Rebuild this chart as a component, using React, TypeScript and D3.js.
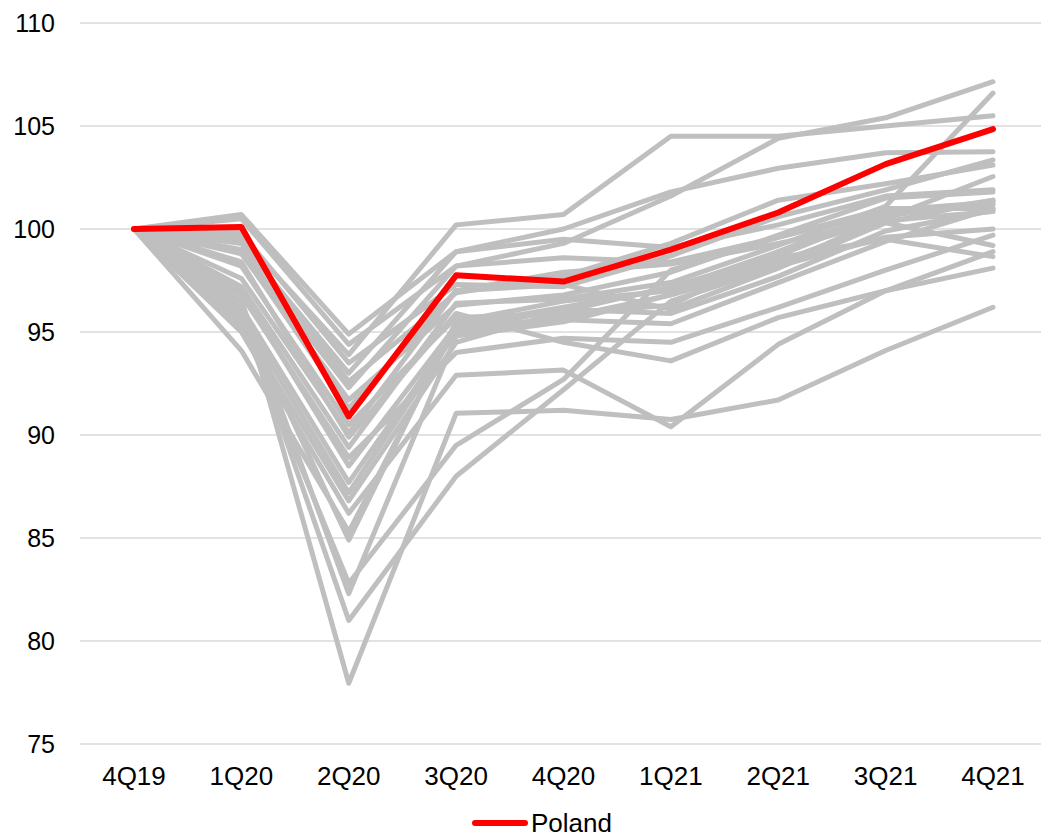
import React from "react";
import * as d3 from "d3";

// Quarterly index, 4Q19 = 100
const quarters = ["4Q19", "1Q20", "2Q20", "3Q20", "4Q20", "1Q21", "2Q21", "3Q21", "4Q21"];
const yTicks = [75, 80, 85, 90, 95, 100, 105, 110];

const poland = [100, 100.1, 90.9, 97.75, 97.45, 99.0, 100.8, 103.15, 104.85];

// Other economies, drawn in grey behind Poland
const others: number[][] = [
  [100, 100.7, 94.9, 98.9, 99.5, 99.1, 100.2, 101.6, 101.9],
  [100, 100.5, 94.4, 98.2, 98.6, 98.4, 99.6, 100.9, 101.2],
  [100, 99.6, 93.9, 100.2, 100.7, 104.5, 104.5, 105.0, 105.5],
  [100, 99.8, 93.5, 97.3, 97.2, 98.7, 100.6, 101.9, 103.35],
  [100, 99.3, 93.0, 98.9, 100.0, 101.8, 102.95, 103.7, 103.75],
  [100, 99.5, 92.6, 96.9, 97.7, 99.3, 101.4, 102.2, 103.1],
  [100, 99.0, 92.3, 98.2, 99.3, 101.6, 104.4, 105.4, 107.15],
  [100, 98.8, 91.7, 96.3, 96.8, 97.9, 99.7, 101.5, 101.8],
  [100, 98.9, 91.3, 97.0, 97.9, 98.3, 99.3, 100.4, 100.85],
  [100, 98.2, 90.5, 95.7, 95.9, 96.3, 98.9, 100.5, 102.55],
  [100, 97.6, 90.1, 97.0, 97.3, 96.1, 98.1, 100.3, 101.4],
  [100, 98.4, 89.9, 95.9, 94.5, 93.6, 95.7, 97.0, 98.9],
  [100, 97.2, 89.4, 96.4, 96.6, 97.4, 99.2, 101.1, 106.6],
  [100, 96.8, 88.9, 94.0, 94.7, 94.5, 96.2, 98.0, 99.7],
  [100, 97.0, 88.5, 95.3, 95.6, 95.4, 97.4, 99.4, 101.0],
  [100, 96.2, 87.7, 95.1, 96.1, 95.9, 97.7, 99.9, 100.9],
  [100, 95.8, 87.2, 95.0, 95.7, 96.8, 98.4, 100.3, 99.2],
  [100, 95.3, 86.8, 94.5, 96.0, 97.2, 98.7, 100.8, 101.2],
  [100, 95.0, 86.2, 92.9, 93.15, 90.4, 94.4, 97.0, 98.1],
  [100, 94.1, 85.3, 95.3, 96.2, 97.1, 98.9, 100.9, 101.3],
  [100, 96.0, 84.9, 95.5, 96.5, 97.0, 98.6, 99.5, 98.66],
  [100, 95.5, 82.8, 89.5, 92.7, 98.0, 99.6, 101.0, 101.0],
  [100, 96.5, 82.3, 94.8, 95.5, 96.8, 98.2, 100.6, 101.4],
  [100, 96.0, 81.0, 88.0, 92.2, 96.5, 98.2, 99.6, 100.0],
  [100, 96.5, 77.95, 91.05, 91.2, 90.75, 91.7, 94.1, 96.2],
];

const WIDTH = 1041;
const HEIGHT = 837;
const FONT = "Liberation Sans, Arial, sans-serif";

export default function App() {
  const x = d3.scalePoint<string>().domain(quarters).range([134, 993]);
  const y = d3.scaleLinear().domain([75, 110]).range([744, 23]);

  const line = d3
    .line<number>()
    .x((_, i) => x(quarters[i]) as number)
    .y((v) => y(v));

  return (
    <svg
      width={WIDTH}
      height={HEIGHT}
      style={{ position: "absolute", left: 0, top: 0, background: "#fff" }}
    >
      {/* horizontal gridlines */}
      {yTicks.map((t) => (
        <line
          key={`g${t}`}
          x1={80}
          x2={WIDTH}
          y1={y(t)}
          y2={y(t)}
          stroke="#d9d9d9"
          strokeWidth={1.5}
        />
      ))}
      {/* y-axis labels */}
      {yTicks.map((t) => (
        <text
          key={`t${t}`}
          x={55}
          y={y(t)}
          textAnchor="end"
          dominantBaseline="central"
          fontFamily={FONT}
          fontSize={25}
          fill="#000"
        >
          {t}
        </text>
      ))}
      {/* x-axis labels */}
      {quarters.map((q) => (
        <text
          key={q}
          x={x(q)}
          y={776}
          textAnchor="middle"
          dominantBaseline="central"
          fontFamily={FONT}
          fontSize={26}
          fill="#000"
        >
          {q}
        </text>
      ))}
      {/* grey series */}
      {others.map((s, i) => (
        <path
          key={`s${i}`}
          d={line(s) ?? ""}
          fill="none"
          stroke="#bfbfbf"
          strokeWidth={5}
          strokeLinejoin="round"
          strokeLinecap="round"
        />
      ))}
      {/* Poland */}
      <path
        d={line(poland) ?? ""}
        fill="none"
        stroke="#ff0000"
        strokeWidth={6}
        strokeLinejoin="round"
        strokeLinecap="round"
      />
      {/* legend */}
      <line
        x1={475}
        x2={525}
        y1={823}
        y2={823}
        stroke="#ff0000"
        strokeWidth={6}
        strokeLinecap="round"
      />
      <text
        x={531}
        y={823}
        dominantBaseline="central"
        fontFamily={FONT}
        fontSize={26}
        fill="#000"
      >
        Poland
      </text>
    </svg>
  );
}
